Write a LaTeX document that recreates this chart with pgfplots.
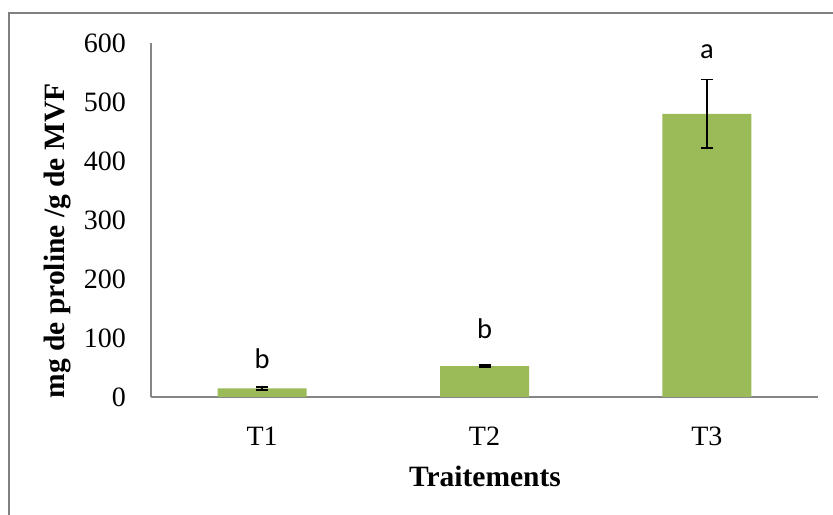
\documentclass[border=0pt]{standalone}
\usepackage{pgfplots}
\pgfplotsset{compat=1.18}
\usepackage{fontspec}
\setmainfont{Liberation Serif}
\newfontfamily\calibri{Carlito}
\definecolor{bargreen}{RGB}{155,187,89}
\definecolor{axgray}{RGB}{134,134,134}
\definecolor{framegray}{RGB}{128,128,128}
\begin{document}
\begin{tikzpicture}
\path[use as bounding box] (0,0) rectangle (833bp,515bp);
\draw[framegray, line width=2bp] (9bp,-5bp) -- (9bp,502bp) -- (840bp,502bp);
\begin{axis}[
  at={(151bp,118bp)}, anchor=south west,
  scale only axis, width=667bp, height=354bp,
  xmin=-0.5, xmax=2.5, ymin=0, ymax=600,
  axis x line=bottom, axis y line=left,
  axis line style={axgray, line width=1.2bp, -},
  xtick={0,1,2}, xticklabels={T1,T2,T3},
  ytick={0,100,...,600},
  major tick length=0pt,
  /pgf/number format/assume math mode=true,
  tick label style={font=\fontsize{28bp}{30bp}\selectfont, inner sep=0pt},
  yticklabel style={anchor=east, xshift=-25bp},
  xticklabel style={anchor=north, yshift=-30bp},
  ybar, bar width=89bp,
  clip=false,
]
\addplot[fill=bargreen, draw=none,
  error bars/.cd, y dir=both, y explicit,
  error bar style={black, line width=1.8bp},
  error mark options={rotate=90, mark size=6bp, black, line width=1.8bp}]
  coordinates {(0,14.5) +- (0,2.5) (1,52.5) +- (0,2) (2,480) +- (0,58)};
\node[font=\calibri\fontsize{28.5bp}{30bp}\selectfont, anchor=base, inner sep=0pt] at (axis cs:0,49) {b};
\node[font=\calibri\fontsize{28.5bp}{30bp}\selectfont, anchor=base, inner sep=0pt] at (axis cs:1,99.5) {b};
\node[font=\calibri\fontsize{28.5bp}{30bp}\selectfont, anchor=base, inner sep=0pt] at (axis cs:2,573) {a};
\end{axis}
\node[font=\bfseries\fontsize{29.5bp}{31bp}\selectfont, anchor=base, inner sep=0pt] at (485bp,29bp) {Traitements};
\node[font=\bfseries\fontsize{29.5bp}{31bp}\selectfont, rotate=90, inner sep=0pt] at (58bp,274bp) {mg de proline /g de MVF};
\end{tikzpicture}
\end{document}
